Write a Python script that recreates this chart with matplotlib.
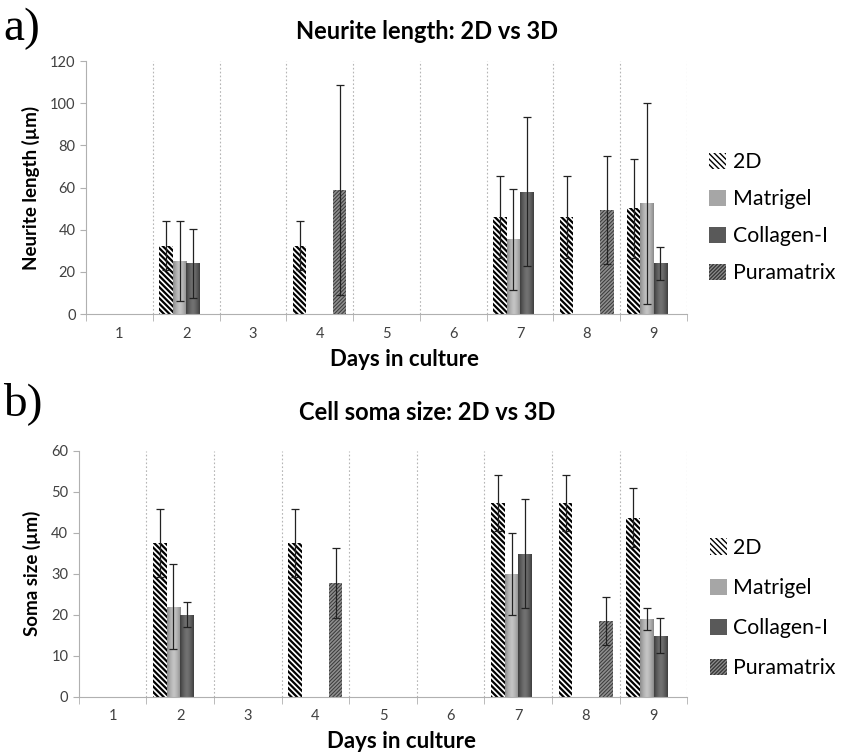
import numpy as np
import matplotlib
matplotlib.use('Agg')
from matplotlib import pyplot as plt
import matplotlib.patches as mpatches

nan = np.nan
days = [1, 2, 3, 4, 5, 6, 7, 8, 9]
series = ['2D', 'Matrigel', 'Collagen-I', 'Puramatrix']

# a) neurite length (um)
neurite_2d = [nan, 32.5, nan, 32.5, nan, nan, 46.0, 46.0, 50.2]
neurite_2d_err = [nan, 11.5, nan, 11.5, nan, nan, 19.3, 19.3, 23.4]
neurite_mat = [nan, 25.0, nan, nan, nan, nan, 35.5, nan, 52.5]
neurite_mat_err = [nan, 19.0, nan, nan, nan, nan, 24.0, nan, 47.6]
neurite_col = [nan, 24.0, nan, nan, nan, nan, 58.0, nan, 24.0]
neurite_col_err = [nan, 16.5, nan, nan, nan, nan, 35.3, nan, 8.0]
neurite_pura = [nan, nan, nan, 58.8, nan, nan, nan, 49.5, nan]
neurite_pura_err = [nan, nan, nan, 50.0, nan, nan, nan, 25.7, nan]

# b) soma size (um)
soma_2d = [nan, 37.4, nan, 37.4, nan, nan, 47.3, 47.3, 43.7]
soma_2d_err = [nan, 8.3, nan, 8.3, nan, nan, 6.9, 6.9, 7.2]
soma_mat = [nan, 22.0, nan, nan, nan, nan, 30.0, nan, 18.9]
soma_mat_err = [nan, 10.4, nan, nan, nan, nan, 10.0, nan, 2.7]
soma_col = [nan, 20.0, nan, nan, nan, nan, 34.9, nan, 14.9]
soma_col_err = [nan, 3.1, nan, nan, nan, nan, 13.3, nan, 4.2]
soma_pura = [nan, nan, nan, 27.8, nan, nan, nan, 18.5, nan]
soma_pura_err = [nan, nan, nan, 8.5, nan, nan, nan, 5.9, nan]

plt.rcParams['font.family'] = ['Lato', 'DejaVu Sans']

styles = {
    '2D': dict(facecolor='white', edgecolor='black', hatch='\\\\\\\\\\\\', linewidth=0),
    'Matrigel': dict(facecolor='#a6a6a6', edgecolor='#8c8c8c', linewidth=0),
    'Collagen-I': dict(facecolor='#595959', edgecolor='#404040', linewidth=0),
    'Puramatrix': dict(facecolor='#8e8e8e', edgecolor='#383838', hatch='/////////', linewidth=0),
}
hatch_lw = {'2D': 1.6, 'Matrigel': 1.0, 'Collagen-I': 1.0, 'Puramatrix': 0.7}
gradients = {'Matrigel': ('#8a8a8a', '#c4c4c4'), 'Collagen-I': ('#3e3e3e', '#727272')}


def shade(ax, bars, dark, light):
    # horizontal "cylinder" gradient clipped to each bar
    c1 = np.array(matplotlib.colors.to_rgb(dark))
    c2 = np.array(matplotlib.colors.to_rgb(light))
    t = np.abs(np.linspace(-1, 1, 40)) ** 1.5
    row = c2[None, :] * (1 - t[:, None]) + c1[None, :] * t[:, None]
    img = row[None, :, :]
    for b in bars:
        h = b.get_height()
        if not np.isfinite(h):
            continue
        x0 = b.get_x()
        im = ax.imshow(img, extent=[x0, x0 + b.get_width(), 0, h], aspect='auto', zorder=2,
                       interpolation='bilinear')
        im.set_clip_path(b)


def panel(ax, data, errs, ymax, ystep, ylabel, leg_y, leg_sp):
    x = np.array(days, dtype=float)
    w = 0.2
    offs = [-0.3, -0.1, 0.1, 0.3]
    for name, vals, err, off in zip(series, data, errs, offs):
        with plt.rc_context({'hatch.linewidth': hatch_lw[name]}):
            bars = ax.bar(x + off, vals, w, zorder=2, **styles[name])
        if name in gradients:
            shade(ax, bars, *gradients[name])
        ax.errorbar(x + off, vals, yerr=err, fmt='none', ecolor='#222222', elinewidth=0.9,
                    capsize=3.2, capthick=0.9, zorder=4)
    ax.set_xlim(0.5, 9.5)
    ax.set_ylim(0, ymax)
    ax.set_yticks(np.arange(0, ymax + 1, ystep))
    ax.set_xticks(x)
    ax.set_xticklabels([str(d) for d in days])
    ax.set_xticks(np.arange(0.5, 10, 1), minor=True)
    ax.tick_params(axis='x', which='major', length=0, pad=9, labelsize=10.5, labelcolor='#404040')
    ax.tick_params(axis='x', which='minor', length=5, color='#b0b0b0', direction='out')
    ax.tick_params(axis='y', length=4, color='#b0b0b0', labelsize=10.5, labelcolor='#404040')
    for b in np.arange(1.5, 10, 1):
        ax.axvline(b, color='#b5b5b5', linestyle=(0, (1.5, 2)), linewidth=0.8, zorder=1)
    for s in ['top', 'right']:
        ax.spines[s].set_visible(False)
    ax.spines['left'].set_color('#b0b0b0')
    ax.spines['bottom'].set_color('#b0b0b0')
    ax.set_ylabel(ylabel, fontsize=13.5, fontweight='bold', labelpad=7)
    ax.set_xlabel('Days in culture', fontsize=16, fontweight='bold')
    ax.xaxis.set_label_coords(0.53, -0.14)

    handles = []
    for n in series:
        with plt.rc_context({'hatch.linewidth': hatch_lw[n]}):
            handles.append(mpatches.Patch(label=n, **styles[n]))
    ax.legend(handles=handles, loc='center left', bbox_to_anchor=(1.005, leg_y), frameon=False,
              fontsize=15.3, handlelength=0.8, handleheight=0.8, handletextpad=0.3,
              labelspacing=leg_sp)


fig = plt.figure(figsize=(8.41, 7.52), dpi=100)
ax1 = fig.add_axes([0.1023, 0.5824, 0.7146, 0.3364])
ax2 = fig.add_axes([0.0936, 0.0735, 0.7237, 0.3271])

panel(ax1, [neurite_2d, neurite_mat, neurite_col, neurite_pura],
      [neurite_2d_err, neurite_mat_err, neurite_col_err, neurite_pura_err],
      120, 20, 'Neurite length (\u00b5m)', 0.38, 0.8)
panel(ax2, [soma_2d, soma_mat, soma_col, soma_pura],
      [soma_2d_err, soma_mat_err, soma_col_err, soma_pura_err],
      60, 10, 'Soma size (\u00b5m)', 0.36, 0.95)

fig.text(0.508, 0.958, 'Neurite length: 2D vs 3D', ha='center', va='center', fontsize=17, fontweight='bold')
fig.text(0.508, 0.452, 'Cell soma size: 2D vs 3D', ha='center', va='center', fontsize=17, fontweight='bold')
fig.text(0.004, 0.962, 'a)', ha='left', va='center', fontsize=34, family='Liberation Serif')
fig.text(0.004, 0.463, 'b)', ha='left', va='center', fontsize=34, family='Liberation Serif')

fig.savefig('out.png', dpi=100, facecolor='white')
